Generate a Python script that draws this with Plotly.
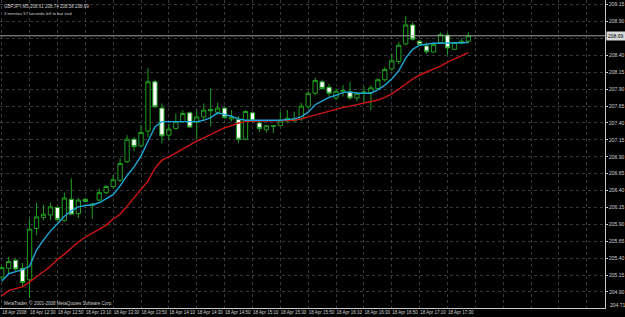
import plotly.graph_objects as go

symbol = "GBPJPY,M5"
timer_text = "3 minutes 57 seconds left to bar end"
copyright_text = "MetaTrader, © 2001-2008 MetaQuotes Software Corp."

opens = [205.12, 205.25, 205.37, 205.25, 205.08, 205.84, 206.00, 206.04, 206.15, 205.96,
         206.27, 206.06, 206.27, 206.18, 206.26, 206.37, 206.46, 206.55, 206.83, 207.16,
         207.06, 207.28, 208.01, 207.62, 207.22, 207.32, 207.42, 207.55, 207.41, 207.49,
         207.60, 207.56, 207.62, 207.46, 207.45, 207.16, 207.55, 207.40, 207.30, 207.35,
         207.36, 207.43, 207.43, 207.46, 207.64, 207.84, 208.01, 207.93, 207.77, 207.86,
         207.86, 207.77, 207.84, 207.85, 207.91, 208.04, 208.20, 208.31, 208.57, 208.85,
         208.61, 208.54, 208.45, 208.59, 208.70, 208.49, 208.58, 208.61]
highs = [205.29, 205.42, 205.40, 205.33, 205.98, 206.22, 206.19, 206.22, 206.17, 206.37,
         206.58, 206.29, 206.29, 206.22, 206.43, 206.48, 206.63, 206.88, 207.22, 207.19,
         207.37, 208.21, 208.04, 207.69, 207.39, 207.54, 207.59, 207.57, 207.59, 207.69,
         207.91, 207.70, 207.64, 207.59, 207.50, 207.59, 207.57, 207.44, 207.37, 207.37,
         207.57, 207.59, 207.57, 207.70, 207.86, 208.07, 208.04, 207.98, 207.91, 207.96,
         208.01, 207.86, 207.94, 207.96, 208.06, 208.23, 208.43, 208.60, 208.98, 208.90,
         208.63, 208.59, 208.60, 208.74, 208.73, 208.60, 208.65, 208.74]
lows = [205.08, 205.18, 205.21, 204.97, 204.81, 205.74, 205.96, 205.96, 205.94, 205.94,
        206.04, 205.99, 206.22, 205.98, 206.24, 206.34, 206.43, 206.53, 206.80, 206.98,
        207.04, 207.19, 207.62, 207.10, 207.16, 207.30, 207.40, 207.33, 207.17, 207.44,
        207.35, 207.52, 207.46, 207.42, 207.10, 207.15, 207.40, 207.27, 207.26, 207.25,
        207.35, 207.40, 207.42, 207.43, 207.62, 207.81, 207.89, 207.79, 207.74, 207.79,
        207.74, 207.72, 207.69, 207.59, 207.89, 208.01, 208.17, 208.27, 208.55, 208.62,
        208.55, 208.42, 208.44, 208.57, 208.41, 208.48, 208.57, 208.58]
closes = [205.26, 205.35, 205.24, 205.04, 205.83, 206.01, 206.05, 206.16, 205.97, 206.29,
          206.05, 206.26, 206.24, 206.20, 206.37, 206.46, 206.56, 206.80, 207.16, 207.05,
          207.26, 208.01, 207.64, 207.21, 207.31, 207.42, 207.54, 207.34, 207.49, 207.59,
          207.58, 207.62, 207.48, 207.48, 207.16, 207.57, 207.43, 207.32, 207.36, 207.36,
          207.43, 207.47, 207.46, 207.65, 207.84, 208.03, 207.91, 207.84, 207.87, 207.88,
          207.77, 207.84, 207.86, 207.92, 208.04, 208.19, 208.32, 208.55, 208.85, 208.64,
          208.56, 208.455, 208.56, 208.71, 208.51, 208.59, 208.61, 208.69]

ma_fast = [205.06, 205.17, 205.20, 205.23, 205.28, 205.52, 205.67, 205.80, 205.91, 206.02,
           206.10, 206.16, 206.18, 206.19, 206.22, 206.28, 206.34, 206.47, 206.62, 206.75,
           206.91, 207.13, 207.34, 207.42, 207.42, 207.43, 207.43, 207.42, 207.42, 207.44,
           207.48, 207.55, 207.53, 207.50, 207.46, 207.44, 207.44, 207.44, 207.43, 207.44,
           207.44, 207.45, 207.46, 207.49, 207.56, 207.67, 207.73, 207.78, 207.81, 207.85,
           207.86, 207.84, 207.84, 207.84, 207.89, 207.96, 208.05, 208.17, 208.36, 208.49,
           208.55, 208.57, 208.58, 208.58, 208.58, 208.59, 208.59, 208.59]
ma_slow = [204.84, 204.92, 204.95, 204.98, 205.05, 205.12, 205.20, 205.28, 205.38, 205.46,
           205.55, 205.64, 205.71, 205.77, 205.83, 205.89, 205.98, 206.05, 206.17, 206.29,
           206.41, 206.54, 206.73, 206.85, 206.90, 206.96, 207.02, 207.07, 207.13, 207.18,
           207.23, 207.28, 207.33, 207.36, 207.40, 207.42, 207.43, 207.43, 207.43, 207.43,
           207.43, 207.44, 207.44, 207.46, 207.49, 207.52, 207.55, 207.58, 207.61, 207.63,
           207.65, 207.67, 207.69, 207.71, 207.74, 207.78, 207.83, 207.90, 207.98, 208.05,
           208.11, 208.15, 208.20, 208.24, 208.30, 208.35, 208.39, 208.44]

bar_index = list(range(len(opens)))

time_tick_pos = [0, 4, 8, 12, 16, 20, 24, 28, 32, 36, 40, 44, 48, 52, 56, 60, 64,
                 68, 72, 76, 80, 84]
time_tick_labels = ["18 Apr 2008", "18 Apr 12:30", "18 Apr 12:50", "18 Apr 13:10",
                    "18 Apr 13:30", "18 Apr 13:50", "18 Apr 14:10", "18 Apr 14:30",
                    "18 Apr 14:50", "18 Apr 15:10", "18 Apr 15:30", "18 Apr 15:50",
                    "18 Apr 16:10", "18 Apr 16:30", "18 Apr 16:50", "18 Apr 17:10",
                    "18 Apr 17:30", "", "", "", "", ""]

price_ticks = [209.15, 208.90, 208.65, 208.40, 208.15, 207.90, 207.65, 207.40, 207.15,
               206.90, 206.65, 206.40, 206.15, 205.90, 205.65, 205.40, 205.15, 204.90]
price_tick_labels = ["209.15", "208.90", "", "208.40", "208.15", "207.90", "207.65",
                     "207.40", "207.15", "206.90", "206.65", "206.40", "206.15",
                     "205.90", "205.65", "205.40", "205.15", "204.90"]
bottom_price = 204.71
last_price = closes[-1]

GREEN = "#1f9e1f"
GRID = "rgba(95,105,115,0.55)"
TXT = "#d0d0d0"
FONT = "Liberation Sans"

fig = go.Figure()
fig.add_trace(go.Candlestick(
    x=bar_index, open=opens, high=highs, low=lows, close=closes,
    increasing=dict(line=dict(color=GREEN, width=1), fillcolor="black"),
    decreasing=dict(line=dict(color=GREEN, width=1), fillcolor="white"),
    whiskerwidth=0, hoverinfo="skip", showlegend=False,
))
fig.add_trace(go.Scatter(x=bar_index, y=ma_slow, mode="lines",
                         line=dict(color="#d01515", width=1.4), hoverinfo="skip",
                         showlegend=False))
fig.add_trace(go.Scatter(x=bar_index, y=ma_fast, mode="lines",
                         line=dict(color="#1fa6d6", width=1.4), hoverinfo="skip",
                         showlegend=False))

fig.add_shape(type="line", xref="paper", x0=0, x1=1, yref="y", y0=last_price,
              y1=last_price, line=dict(color="#a0a0a0", width=1))

fig.add_annotation(xref="paper", x=1, xanchor="left", xshift=1, yref="y", y=last_price,
                   text=f"{last_price:.2f}", showarrow=False, bgcolor="#d8d8d8",
                   font=dict(color="black", size=5, family=FONT), borderpad=1)
fig.add_annotation(xref="paper", x=1, xanchor="left", xshift=3, yref="y", y=bottom_price,
                   text=f"{bottom_price:.2f}", showarrow=False,
                   font=dict(color=TXT, size=5, family=FONT))

header = f"{symbol} {opens[-1]:.2f} {highs[-1]:.2f} {lows[-1]:.2f} {closes[-1]:.2f}"
fig.add_annotation(xref="paper", x=0, xanchor="left", xshift=2, yref="paper", y=1,
                   yanchor="top", yshift=-2, text=header, showarrow=False,
                   font=dict(color=TXT, size=4.5, family=FONT))
fig.add_annotation(xref="paper", x=0, xanchor="left", xshift=2, yref="paper", y=1,
                   yanchor="top", yshift=-9, text=timer_text, showarrow=False,
                   font=dict(color=TXT, size=4.2, family=FONT))
fig.add_annotation(xref="paper", x=0, xanchor="left", xshift=2, yref="paper", y=0,
                   yanchor="bottom", yshift=0, text=copyright_text, showarrow=False,
                   font=dict(color=TXT, size=4.5, family=FONT))

fig.update_layout(
    width=625, height=317,
    margin=dict(l=0, r=17, t=0, b=9),
    paper_bgcolor="black", plot_bgcolor="black",
    hovermode=False,
    boxgap=0.38, boxgroupgap=0.0,
    xaxis=dict(range=[-0.243, 86.61], rangeslider=dict(visible=False),
               tickmode="array", tickvals=time_tick_pos, ticktext=time_tick_labels,
               tickangle=0,
               showgrid=True, gridcolor=GRID, griddash="dot", gridwidth=1,
               zeroline=False, showline=True, linecolor="#c8c8c8", linewidth=1,
               ticks="", ticklabelposition="outside right",
               tickfont=dict(color=TXT, size=4.5, family=FONT)),
    yaxis=dict(range=[204.663, 209.2195], side="right",
               tickmode="array", tickvals=price_ticks, ticktext=price_tick_labels,
               showgrid=True, gridcolor=GRID, griddash="dot", gridwidth=1,
               zeroline=False, showline=True, linecolor="#c8c8c8", linewidth=1,
               ticks="outside", ticklen=2, tickcolor="#c8c8c8",
               tickfont=dict(color=TXT, size=5, family=FONT)),
)

fig.write_html("out.html", config={"displayModeBar": False})
